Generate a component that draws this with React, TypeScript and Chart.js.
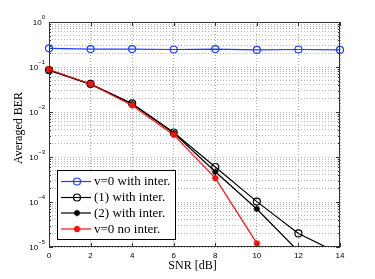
import React, { useEffect, useRef } from "react";
import { Chart, registerables } from "chart.js";
Chart.register(...registerables);

const snr = [0, 2, 4, 6, 8, 10, 12, 14];
const berV0Inter = [0.26, 0.25, 0.25, 0.245, 0.25, 0.24, 0.245, 0.24];
const ber1Inter = [0.085, 0.042, 0.0155, 0.0035, 6.0e-4, 1.02e-4, 2.0e-5, 7e-6];
const ber2Inter = [0.085, 0.041, 0.015, 0.0034, 4.7e-4, 7.0e-5, 8.0e-6, null];
const berV0NoInter = [0.088, 0.042, 0.014, 0.0031, 3.4e-4, 1.2e-5, null, null];

const xTicks = [0, 2, 4, 6, 8, 10, 12, 14];
const yDecades = [-5, -4, -3, -2, -1, 0];
const legendLabels = ["v=0 with inter.", "(1) with inter.", "(2) with inter.", "v=0 no inter."];
const xTitle = "SNR [dB]";
const yTitle = "Averaged BER";

const toPts = (ys: (number | null)[]) =>
  snr.map((x, i) => ({ x, y: ys[i] })).filter((p) => p.y !== null);

const SANS = '"Liberation Sans", Arial, sans-serif';
const SERIF = '"Liberation Serif", "Times New Roman", serif';

export default function App() {
  const ref = useRef<HTMLCanvasElement | null>(null);
  useEffect(() => {
    if (!ref.current) return;
    const styles = [
      { color: "#1f3fff", style: "circle", fill: "rgba(0,0,0,0)", r: 3.5, bw: 1.2 },
      { color: "#000000", style: "circle", fill: "rgba(0,0,0,0)", r: 3.5, bw: 1.2 },
      { color: "#000000", style: "star", fill: "#000000", r: 3.2, bw: 1.5 },
      { color: "#ff1010", style: "star", fill: "#ff1010", r: 3.2, bw: 1.8 },
    ];
    const series = [berV0Inter, ber1Inter, ber2Inter, berV0NoInter];
    const datasets = series.map((s, i) => ({
      label: legendLabels[i],
      data: toPts(s),
      borderColor: styles[i].color,
      backgroundColor: styles[i].fill,
      pointBorderColor: styles[i].color,
      pointBackgroundColor: styles[i].fill,
      pointStyle: styles[i].style,
      pointRadius: styles[i].r,
      pointBorderWidth: styles[i].bw,
      borderWidth: 1.2,
      order: i === 3 ? 0 : 4 - i,
      clip: { left: false, right: false, top: 6, bottom: 0 },
    }));

    const decorations = {
      id: "decorations",
      afterDraw(chart: any) {
        const { ctx, chartArea: a, scales } = chart;
        const xs = scales.x, ys = scales.y;
        ctx.save();
        // box
        ctx.strokeStyle = "#333";
        ctx.lineWidth = 1;
        ctx.setLineDash([]);
        ctx.strokeRect(a.left + 0.5, a.top + 0.5, a.right - a.left - 1, a.bottom - a.top - 1);
        // inside ticks
        ctx.beginPath();
        for (const d of yDecades) {
          for (let m = 1; m <= 9; m++) {
            const v = m * Math.pow(10, d);
            if (v > 1 || v < 1e-5) continue;
            const y = Math.round(ys.getPixelForValue(v)) + 0.5;
            const len = m === 1 ? 4 : 2;
            ctx.moveTo(a.left, y); ctx.lineTo(a.left + len, y);
            ctx.moveTo(a.right, y); ctx.lineTo(a.right - len, y);
          }
        }
        for (const t of xTicks) {
          const x = Math.round(xs.getPixelForValue(t)) + 0.5;
          ctx.moveTo(x, a.bottom); ctx.lineTo(x, a.bottom - 4);
          ctx.moveTo(x, a.top); ctx.lineTo(x, a.top + 4);
        }
        ctx.stroke();
        // x tick labels
        ctx.fillStyle = "#000";
        ctx.font = `8px ${SANS}`;
        ctx.textAlign = "center";
        ctx.textBaseline = "middle";
        for (const t of xTicks) {
          ctx.fillText(String(t), xs.getPixelForValue(t), a.bottom + 9);
        }
        // y tick labels
        for (const d of yDecades) {
          const y = ys.getPixelForValue(Math.pow(10, d));
          const exp = d === 0 ? "0" : "\u2212" + Math.abs(d);
          ctx.font = `6px ${SANS}`;
          const ew = ctx.measureText(exp).width;
          ctx.textAlign = "left";
          ctx.textBaseline = "middle";
          const ex = a.left - 4 - ew;
          ctx.fillText(exp, ex, y - 5);
          ctx.font = `8px ${SANS}`;
          ctx.textAlign = "right";
          ctx.fillText("10", ex, y + 1);
        }
        // titles
        ctx.font = `12px ${SERIF}`;
        ctx.textAlign = "center";
        ctx.textBaseline = "middle";
        ctx.fillText(xTitle, (a.left + a.right) / 2 - 2, a.bottom + 19);
        ctx.save();
        ctx.translate(19, 128);
        ctx.rotate(-Math.PI / 2);
        ctx.fillText(yTitle, 0, 0);
        ctx.restore();
        // legend
        const lx = 57, ly = 170, lw = 118, lh = 69;
        ctx.fillStyle = "#fff";
        ctx.fillRect(lx, ly, lw, lh);
        ctx.strokeStyle = "#000";
        ctx.lineWidth = 1;
        ctx.strokeRect(lx + 0.5, ly + 0.5, lw, lh);
        const rows = [181.5, 197.5, 213, 229];
        rows.forEach((ry, i) => {
          const st = styles[i];
          ctx.strokeStyle = st.color;
          ctx.lineWidth = 1.2;
          ctx.beginPath();
          ctx.moveTo(61, ry); ctx.lineTo(91, ry);
          ctx.stroke();
          ctx.lineWidth = st.bw;
          ctx.beginPath();
          if (st.style === "circle") {
            ctx.arc(77, ry, st.r, 0, Math.PI * 2);
          } else {
            const r = st.r;
            const dd = r * Math.SQRT1_2;
            ctx.moveTo(77 - r, ry); ctx.lineTo(77 + r, ry);
            ctx.moveTo(77, ry - r); ctx.lineTo(77, ry + r);
            ctx.moveTo(77 - dd, ry - dd); ctx.lineTo(77 + dd, ry + dd);
            ctx.moveTo(77 - dd, ry + dd); ctx.lineTo(77 + dd, ry - dd);
          }
          ctx.stroke();
          ctx.fillStyle = "#000";
          ctx.font = `13px ${SERIF}`;
          ctx.textAlign = "left";
          ctx.textBaseline = "middle";
          ctx.fillText(legendLabels[i], 94, ry + 0.5);
        });
        ctx.restore();
      },
    };

    const chart = new Chart(ref.current, {
      type: "line",
      data: { datasets: datasets as any },
      options: {
        animation: false,
        responsive: true,
        maintainAspectRatio: false,
        layout: { padding: { top: 22, right: 35, left: 0, bottom: 0 } },
        plugins: { legend: { display: false }, tooltip: { enabled: false } },
        scales: {
          x: {
            type: "linear",
            min: 0,
            max: 14,
            ticks: { display: false, stepSize: 2 },
            grid: { color: "#a8a8a8", drawTicks: false, lineWidth: 1 },
            border: { display: false, dash: [1, 2] },
            afterFit: (s: any) => { s.height = 32; },
          },
          y: {
            type: "logarithmic",
            min: 1e-5,
            max: 1,
            ticks: { display: false },
            grid: { color: "#b4b4b4", drawTicks: false, lineWidth: 1 },
            border: { display: false, dash: [1, 2] },
            afterFit: (s: any) => { s.width = 49; },
            afterBuildTicks: (s: any) => {
              const t: any[] = [];
              for (const d of yDecades) {
                for (let m = 1; m <= 9; m++) {
                  const v = m * Math.pow(10, d);
                  if (v <= 1 && v >= 1e-5) t.push({ value: v, major: m === 1 });
                }
              }
              s.ticks = t;
            },
          },
        },
      },
      plugins: [decorations],
    } as any);
    return () => chart.destroy();
  }, []);
  return (
    <div style={{ position: "absolute", left: 0, top: 0, width: 375, height: 279, background: "#fff" }}>
      <canvas ref={ref} />
    </div>
  );
}
